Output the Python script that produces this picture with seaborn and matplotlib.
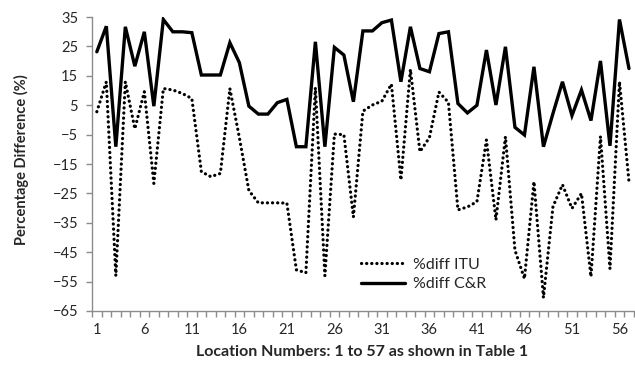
import matplotlib
matplotlib.use("Agg")
import matplotlib.pyplot as plt
from matplotlib.lines import Line2D
import seaborn as sns
import pandas as pd
import numpy as np

# Percentage differences per measurement location
locations = list(range(1, 58))
diff_itu = [2.8, 13, -53, 13, -3, 9.6, -21.6, 10.7, 10.2, 9.0,
            7.3, -17.6, -19.3, -18.2, 10.7, -6, -24, -28.2, -28.2, -28.2,
            -28.3, -51, -52, 11, -53, -4.8, -5, -33, 3.0, 5.1,
            6.4, 12.2, -20.4, 17.2, -10.8, -6, 9.5, 6, -30.6, -29.6,
            -27.8, -6.8, -34, -5.7, -44.3, -54, -21, -60.5, -29.5, -22,
            -30.1, -25, -53.3, -5.6, -50.6, 13, -21]
diff_cr = [23.2, 31.9, -9.1, 31.7, 18.3, 30, 4.7, 34.2, 30, 30,
           29.7, 15.3, 15.3, 15.3, 26.3, 19.5, 4.7, 2.0, 2.0, 5.9,
           7.0, -9.1, -9.1, 26.6, -9.1, 24.7, 22.1, 6.2, 30.3, 30.3,
           33.1, 34, 13, 31.7, 17.5, 16.4, 29.4, 30, 5.6, 2.4,
           5.0, 23.8, 5.1, 24.9, -2.5, -5.1, 18.1, -9.1, 2.2, 13,
           1.5, 10.2, -0.2, 20.1, -8.8, 34.2, 17.5]
series_names = ["%diff ITU", "%diff C&R"]
y_ticks = list(range(-65, 36, 10))
x_tick_labels = list(range(1, 58, 5))

df = pd.DataFrame({
    "location": locations * 2,
    "value": diff_itu + diff_cr,
    "series": [series_names[0]] * len(locations) + [series_names[1]] * len(locations),
})

sns.set_theme(style="white")
plt.rcParams["font.family"] = ["Lato", "DejaVu Sans"]

DOTS = (0, (0.05, 1.55))
AXIS_GREY = "#8c8c8c"

fig = plt.figure(figsize=(6.35, 3.72), dpi=100)
ax = fig.add_axes([0.145, 0.164, 0.853, 0.790])

sns.lineplot(data=df, x="location", y="value", hue="series", style="series",
             palette=["black", "black"], dashes=False, ax=ax, legend=False,
             sort=False)

itu_line, cr_line = ax.lines[0], ax.lines[1]
itu_line.set_linewidth(2.3)
itu_line.set_linestyle(DOTS)
itu_line.set_dash_capstyle("round")
cr_line.set_linewidth(2.4)
cr_line.set_solid_joinstyle("miter")

ax.set_xlim(0.5, 57.5)
ax.set_ylim(-65, 35)
ax.set_yticks(y_ticks)
ax.set_xticks(x_tick_labels)
ax.set_xticks(np.arange(0.5, 58, 1), minor=True)

for side in ["top", "right"]:
    ax.spines[side].set_visible(False)
for side in ["left", "bottom"]:
    ax.spines[side].set_color(AXIS_GREY)
    ax.spines[side].set_linewidth(1.0)

ax.tick_params(axis="y", which="major", direction="out", length=4, width=1,
               color=AXIS_GREY, labelsize=10.5, pad=6, left=True)
ax.tick_params(axis="x", which="major", length=0, labelsize=10.5, pad=9, bottom=True)
ax.tick_params(axis="x", which="minor", direction="out", length=4, width=1,
               color=AXIS_GREY, bottom=True)

ax.set_ylabel("Percentage Difference (%)", fontsize=10.5, fontweight="bold")
ax.set_xlabel("Location Numbers: 1 to 57 as shown in Table 1", fontsize=11.5,
              fontweight="bold")
ax.yaxis.set_label_coords(-0.116, 0.515)
ax.xaxis.set_label_coords(0.498, -0.115)

handles = [
    Line2D([], [], color="black", lw=2.3, linestyle=DOTS, dash_capstyle="round"),
    Line2D([], [], color="black", lw=2.4),
]
ax.legend(handles, series_names, loc="upper left",
          bbox_to_anchor=(0.5685, 0.307), bbox_transform=fig.transFigure,
          frameon=False, fontsize=11.5, handlelength=2.75, handletextpad=0.5,
          labelspacing=0.32, borderpad=0, borderaxespad=0)

fig.savefig("out.png", dpi=100)
